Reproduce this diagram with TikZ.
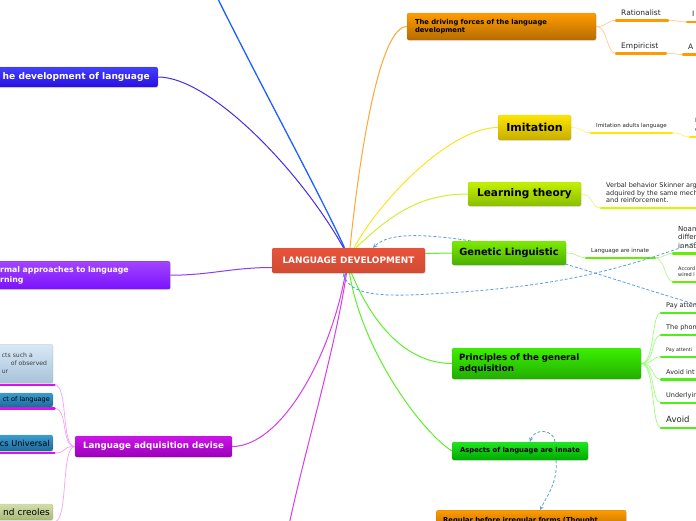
\documentclass[tikz,border=0pt]{standalone}
\usepackage{fontspec}
\setmainfont{DejaVu Sans}
\usepackage{tikz}
\usetikzlibrary{positioning,calc,arrows,shadows,backgrounds}

% topic colours (top / bottom of the gradient)
\definecolor{ldred}{HTML}{E8533A}
\definecolor{drvtop}{HTML}{FF9C00}
\definecolor{drvbot}{HTML}{B56C00}
\definecolor{imtop}{HTML}{FFE400}
\definecolor{imbot}{HTML}{C6AE00}
\definecolor{lttop}{HTML}{C4F000}
\definecolor{ltbot}{HTML}{8ABE00}
\definecolor{gltop}{HTML}{7CEB00}
\definecolor{glbot}{HTML}{4BAF00}
\definecolor{prtop}{HTML}{3CF000}
\definecolor{prbot}{HTML}{22AE00}
\definecolor{astop}{HTML}{22E622}
\definecolor{asbot}{HTML}{00A800}
\definecolor{devtop}{HTML}{4040FF}
\definecolor{devbot}{HTML}{2A10E0}
\definecolor{fmtop}{HTML}{A345FF}
\definecolor{fmbot}{HTML}{7A12FF}
\definecolor{ladtop}{HTML}{CC14E8}
\definecolor{ladbot}{HTML}{9A00B8}
\definecolor{ltbtop}{HTML}{D8E8F6}
\definecolor{ltbbot}{HTML}{A8C2DA}
\definecolor{sbtop}{HTML}{3A9DD2}
\definecolor{sbbot}{HTML}{1E6A9A}
\definecolor{olvtop}{HTML}{D2DEAA}
\definecolor{olvbot}{HTML}{A8B978}
% connector colours
\definecolor{brblue}{HTML}{1F5FFF}
\definecolor{brdev}{HTML}{4A2BE0}
\definecolor{brorange}{HTML}{FFA633}
\definecolor{bryellow}{HTML}{FFE21F}
\definecolor{brlime}{HTML}{CCF033}
\definecolor{brgreen}{HTML}{5FEE2A}
\definecolor{brfml}{HTML}{8C3CF2}
\definecolor{brmag}{HTML}{D63CEA}
\definecolor{twor}{HTML}{FFCC88}
\definecolor{twyel}{HTML}{FFF080}
\definecolor{twlime}{HTML}{E4F880}
\definecolor{twgreen}{HTML}{B4F590}
\definecolor{twpr}{HTML}{99FF77}
\definecolor{twlad}{HTML}{F2A2F8}
\definecolor{ulor}{HTML}{FF9A00}
\definecolor{ulyel}{HTML}{FFE600}
\definecolor{ullime}{HTML}{D8F800}
\definecolor{ulgreen}{HTML}{66EE00}
\definecolor{ulpr}{HTML}{4EEE1A}
\definecolor{ullad}{HTML}{DD11EE}
\definecolor{relblue}{HTML}{5A9BE6}

\newcommand\fsz[2]{\fontsize{#1}{#2}\selectfont}

\tikzset{topic/.style args={#1|#2}{rounded corners=2, draw=#2!85!black, draw opacity=0.35,
	top color=#1, bottom color=#2, inner sep=0pt, text=black,
	drop shadow={opacity=0.18, shadow xshift=0.6pt, shadow yshift=-1pt}}}
\tikzset{leaf/.style={anchor=south west, inner xsep=5pt, inner ysep=5pt, text depth=0pt, text=black!85}}
\tikzset{leafm/.style={anchor=south west, inner xsep=5pt, inner ysep=5pt, align=left, text=black!85}}
\tikzset{branch/.style={draw=#1, line width=1pt}}
\tikzset{twig/.style={draw=#1, line width=0.7pt}}
\tikzset{uline/.style={draw=#1, line width=2.4pt, line cap=round}}
\tikzset{rel/.style={draw=relblue, line width=0.8pt, dash pattern=on 3pt off 2pt, ->, >=stealth}}

\begin{document}
\begin{tikzpicture}[x=1pt,y=-1pt]
	\useasboundingbox (0,0) rectangle (696,520);
	\clip (0,0) rectangle (696,520);

	% central topic
	\node[topic={ldred|ldred!90!black}, minimum width=153, minimum height=25, text=white,
		font=\bfseries\fsz{8.9}{10}] (ld) at (348.5,260.5) {LANGUAGE DEVELOPMENT};

	% right hand topics
	\node[topic={drvtop|drvbot}, minimum width=189, minimum height=27, inner xsep=8pt, text width=173pt,
		align=left, font=\bfseries\fsz{6.8}{8.5}] (drv) at (501.5,26.5) {The driving forces of the language\\development};
	\node[topic={imtop|imbot}, minimum width=73, minimum height=25, font=\bfseries\fsz{11}{13}] (imi) at (534.5,127.5) {Imitation};
	\node[topic={lttop|ltbot}, minimum width=113, minimum height=24, font=\bfseries\fsz{10.5}{12}] (lrn) at (524.5,194) {Learning theory};
	\node[topic={gltop|glbot}, minimum width=114, minimum height=24, font=\bfseries\fsz{9.8}{12}] (gen) at (509,253) {Genetic Linguistic};
	\node[topic={prtop|prbot}, minimum width=189, minimum height=31, inner xsep=7pt, text width=175pt,
		align=left, font=\bfseries\fsz{8.7}{11}] (prin) at (546.5,363.5) {Principles of the general\\adquisition};
	\node[topic={astop|asbot}, minimum width=136, minimum height=18, font=\bfseries\fsz{6.8}{8}] (asp) at (520,451) {Aspects of language are innate};
	\node[topic={drvtop|drvbot}, anchor=north west, minimum width=190, minimum height=20, inner xsep=7pt,
		text width=176pt, align=left, font=\bfseries\fsz{6.8}{8.5}] (reg) at (436,510) {Regular before irregular forms (Thought};

	% left hand topics
	\node[topic={devtop|devbot}, anchor=east, minimum height=20, inner xsep=8pt, text=white,
		font=\bfseries\fsz{9.1}{11}] (dev) at (158,77) {he development of language};
	\node[topic={fmtop|fmbot}, anchor=north west, minimum width=178, minimum height=28, inner xsep=8pt,
		text width=162pt, align=left, text=white, font=\bfseries\fsz{7.8}{9.5}] (fml) at (-8,261) {rmal approaches to language\\rning};
	\node[topic={ladtop|ladbot}, minimum width=157, minimum height=21, text=white,
		font=\bfseries\fsz{8.7}{10}] (lad) at (153.5,446.5) {Language adquisition devise};
	\node[topic={ltbtop|ltbbot}, anchor=north east, minimum height=39, inner xsep=2pt, text width=55pt,
		align=left, text=black!75, font=\fsz{6.1}{8}] (lb1) at (53,344)
		{\hspace*{6pt}cts such a\\\hspace*{15pt}of observed\\\hspace*{6pt}ur};
	\node[topic={sbtop|sbbot}, anchor=east, minimum height=14, inner xsep=3pt, text width=60pt,
		align=right, font=\fsz{6.5}{8}] (lb2) at (53,400) {ct of language};
	\node[topic={sbtop|sbbot}, anchor=east, minimum height=16, inner xsep=3pt, text width=60pt,
		align=right, font=\fsz{8.2}{10}] (lb3) at (53,443) {cs Universal};
	\node[topic={olvtop|olvbot}, anchor=east, minimum height=16, inner xsep=3pt, text width=60pt,
		align=right, font=\fsz{9}{11}] (lb4) at (53,512) {nd creoles};

	% leaves
	\node[leaf, font=\fsz{7.5}{9}] (rat) at (616,20.3) {Rationalist};
	\node[leaf, font=\fsz{7.5}{9}] (emp) at (616,53.3) {Empiricist};
	\node[leaf, font=\fsz{7.5}{9}] (rat2) at (687,22) {I};
	\node[leaf, font=\fsz{7.5}{9}] (emp2) at (683,54.5) {A};
	\node[leaf, font=\fsz{5.5}{7}] (iml) at (591,132.7) {Imitation adults language};
	\node[leafm, font=\fsz{6}{9}] (iml2) at (690,137) {I\\e};
	\node[leafm, font=\fsz{6.5}{7.5}] (ltl) at (601,208) {Verbal behavior Skinner arg\\adquired by the same mech\\and reinforcement.};
	\node[leaf, font=\fsz{5.6}{7}] (gll) at (586,257.7) {Language are innate};
	\node[leafm, font=\fsz{7}{8.2}] (noam) at (673,253.3) {Noam\\differ\\innat};
	\node[leafm, font=\fsz{5}{6}] (acc) at (673,281.7) {Accord\\wired l};
	\node[leaf, font=\fsz{6.5}{8}] (pr1) at (661,312.7) {Pay atten};
	\node[leaf, font=\fsz{6.5}{8}] (pr2) at (661,335) {The phon};
	\node[leaf, font=\fsz{4.8}{6}] (pr3) at (661,356.7) {Pay attenti};
	\node[leaf, font=\fsz{6.5}{8}] (pr4) at (661,379.3) {Avoid int};
	\node[leaf, font=\fsz{6.5}{8}] (pr5) at (661,402.7) {Underlyin};
	\node[leaf, font=\fsz{8.5}{10}] (pr6) at (661,427.7) {Avoid};

	% ends outside the page
	\coordinate (offtop) at (217,-3);
	\coordinate (offbot) at (289,525);
	\coordinate (offr1) at (702,306);
	\coordinate (offr2) at (702,240);

	\begin{scope}[on background layer]
		\clip (0,0) rectangle (696,520);
		% branches from the centre
		\draw[branch=brblue, line width=1.3pt] (offtop) .. controls (262,88) and (318,190) .. ([xshift=-4pt]ld.north);
		\draw[branch=brdev] ([xshift=-5pt]ld.north) .. controls (300,170) and (210,77) .. (dev.east);
		\draw[branch=brorange] ([xshift=1.5pt]ld.north) .. controls (360,150) and (380,26.5) .. (drv.west);
		\draw[branch=bryellow] ([xshift=5.5pt]ld.north) .. controls (380,200) and (450,127.5) .. (imi.west);
		\draw[branch=brlime] ([xshift=7.5pt]ld.north) .. controls (395,210) and (425,194) .. (lrn.west);
		\draw[branch=brgreen] ($(ld.east)+(0,-7)$) -- (gen.west);
		\draw[branch=brfml] (fml.east) .. controls +(40,0) and +(-40,0) .. ($(ld.west)+(0,7)$);
		\draw[branch=brgreen] ([xshift=3pt]ld.south) .. controls (375,330) and (410,363.5) .. (prin.west);
		\draw[branch=brgreen] ([xshift=1pt]ld.south) .. controls (362,350) and (420,430) .. (asp.west);
		\draw[branch=brmag] ([xshift=-3pt]ld.south) .. controls (330,360) and (280,446.5) .. (lad.east);
		\draw[branch=brmag] ([xshift=-2pt]ld.south) .. controls (335,350) and (305,450) .. (offbot);

		% twigs to the leaves
		\draw[twig=twor] (drv.east) .. controls +(12,0) and +(-10,0) .. (rat.south west);
		\draw[twig=twor] (drv.east) .. controls +(12,0) and +(-10,0) .. (emp.south west);
		\draw[twig=twor] ([xshift=52pt]rat.south west) .. controls +(10,0) and +(-8,0) .. (rat2.south west);
		\draw[twig=twor] ([xshift=50pt]emp.south west) .. controls +(10,0) and +(-8,0) .. (emp2.south west);
		\draw[twig=twyel] (imi.east) .. controls +(12,0) and +(-10,0) .. (iml.south west);
		\draw[twig=twyel] ([xshift=81pt]iml.south west) .. controls +(10,0) and +(-8,0) .. (iml2.south west);
		\draw[twig=twlime] (lrn.east) .. controls +(12,0) and +(-10,0) .. (ltl.south west);
		\draw[twig=twgreen] (gen.east) .. controls +(12,0) and +(-10,0) .. (gll.south west);
		\draw[twig=twgreen] ([xshift=69pt]gll.south west) .. controls +(10,0) and +(-8,0) .. (noam.south west);
		\draw[twig=twgreen] ([xshift=69pt]gll.south west) .. controls +(10,0) and +(-8,0) .. (acc.south west);
		\draw[twig=twpr] (prin.east) .. controls +(14,0) and +(-10,0) .. (pr1.south west);
		\draw[twig=twpr] (prin.east) .. controls +(14,0) and +(-10,0) .. (pr2.south west);
		\draw[twig=twpr] (prin.east) .. controls +(14,0) and +(-10,0) .. (pr3.south west);
		\draw[twig=twpr] (prin.east) .. controls +(14,0) and +(-10,0) .. (pr4.south west);
		\draw[twig=twpr] (prin.east) .. controls +(14,0) and +(-10,0) .. (pr5.south west);
		\draw[twig=twpr] (prin.east) .. controls +(14,0) and +(-10,0) .. (pr6.south west);
		\draw[twig=twlad] (lad.west) .. controls +(-14,0) and +(14,0) .. ([xshift=1.5pt,yshift=-1.3pt]lb1.south east);
		\draw[twig=twlad] (lad.west) .. controls +(-14,0) and +(14,0) .. ([xshift=1.5pt,yshift=-1.3pt]lb2.south east);
		\draw[twig=twlad] (lad.west) .. controls +(-14,0) and +(14,0) .. ([xshift=1.5pt,yshift=-1.7pt]lb3.south east);
		\draw[twig=twlad] (lad.west) .. controls +(-14,0) and +(14,0) .. ([xshift=1.5pt,yshift=-1.5pt]lb4.south east);

		% underlines
		\draw[uline=ulor] (rat.south west) -- +(52,0);
		\draw[uline=ulor] (emp.south west) -- +(50,0);
		\draw[uline=ulor] (rat2.south west) -- +(20,0);
		\draw[uline=ulor] (emp2.south west) -- +(20,0);
		\draw[uline=ulyel] (iml.south west) -- +(81,0);
		\draw[uline=ulyel] (iml2.south west) -- +(20,0);
		\draw[uline=ullime] (ltl.south west) -- +(100,0);
		\draw[uline=ulgreen] (gll.south west) -- +(69,0);
		\draw[uline=ulgreen] (noam.south west) -- +(30,0);
		\draw[uline=ulgreen] (acc.south west) -- +(30,0);
		\draw[uline=ulpr] (pr1.south west) -- +(40,0);
		\draw[uline=ulpr] (pr2.south west) -- +(40,0);
		\draw[uline=ulpr] (pr3.south west) -- +(40,0);
		\draw[uline=ulpr] (pr4.south west) -- +(40,0);
		\draw[uline=ulpr] (pr5.south west) -- +(40,0);
		\draw[uline=ulpr] (pr6.south west) -- +(40,0);
		\draw[uline=ullad] ([xshift=1.5pt,yshift=-1.3pt]lb1.south east) -- +(-70,0);
		\draw[uline=ullad] ([xshift=1.5pt,yshift=-1.3pt]lb2.south east) -- +(-70,0);
		\draw[uline=ullad] ([xshift=1.5pt,yshift=-1.7pt]lb3.south east) -- +(-70,0);
		\draw[uline=ullad] ([xshift=1.5pt,yshift=-1.5pt]lb4.south east) -- +(-70,0);

		% dashed relations
		\draw[rel] (offr1) .. controls (610,280) and (520,244) .. (440,237)
			.. controls (400,233) and (383,238) .. ([xshift=24.5pt]ld.north);
		\draw[rel] (offr2) .. controls (620,270) and (560,287) .. (430,294)
			.. controls (380,297) and (350,295) .. ([xshift=-5pt]ld.south);
		\draw[rel] ([xshift=35pt]asp.north) .. controls (554,429) and (534,428) .. ([xshift=10pt]asp.north);
		\draw[rel] ([xshift=36pt]asp.south) .. controls (558,482) and (547,496) .. ([xshift=104pt]reg.north west);
	\end{scope}
\end{tikzpicture}
\end{document}
